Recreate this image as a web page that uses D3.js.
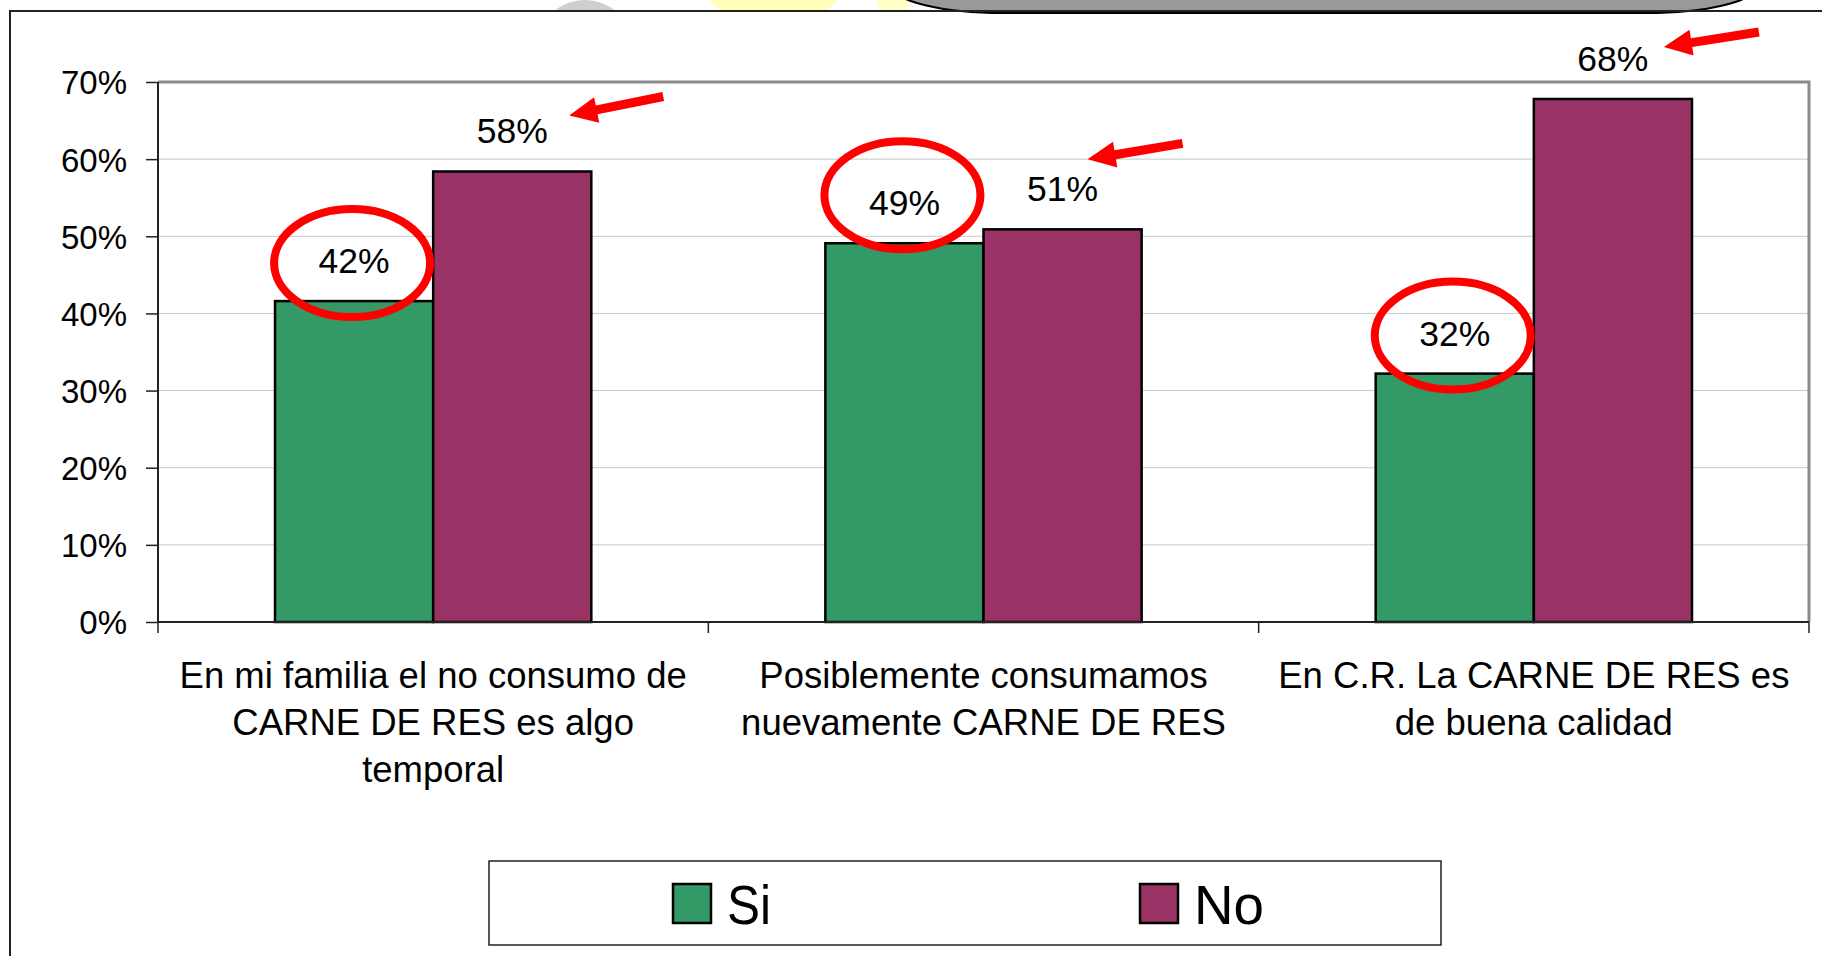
<!DOCTYPE html>
<html>
<head>
<meta charset="utf-8">
<script src="https://cdn.jsdelivr.net/npm/d3@7"></script>
<style>
  html, body { margin: 0; padding: 0; background: #fff; }
  svg { display: block; font-family: "Liberation Sans", Arial, Helvetica, sans-serif; }
</style>
</head>
<body>
<div id="chart"></div>
<script>
const categories = [
  ['En mi familia el no consumo de', 'CARNE DE RES es algo', 'temporal'],
  ['Posiblemente consumamos', 'nuevamente CARNE DE RES'],
  ['En C.R. La CARNE DE RES es', 'de buena calidad'],
];
const seriesNames = ['Si', 'No'];
const siValues = [0.416, 0.491, 0.322];
const noValues = [0.584, 0.509, 0.678];
const yTicks = [0, 0.1, 0.2, 0.3, 0.4, 0.5, 0.6, 0.7];
const colors = { Si: '#339966', No: '#993366' };

// hand-drawn annotations: circles round the Si labels, arrows pointing at the No labels
const circled = [{ cat: 0, dy: -10 }, { cat: 1, dy: -20 }, { cat: 2, dy: -10 }];
const arrows = [
  { cat: 0, tip: [57, -28], tail: [151, -47] },
  { cat: 1, tip: [25, -42], tail: [120, -58] },
  { cat: 2, tip: [51, -24], tail: [146, -39] },
];

const width = 1822, height = 956;
const margin = { top: 82, right: 13, bottom: 334, left: 158 };

const svg = d3.select('#chart').append('svg')
  .attr('width', width).attr('height', height);

// faint decorations peeking above the frame
svg.append('clipPath').attr('id', 'topclip')
  .append('rect').attr('x', 0).attr('y', 0).attr('width', width).attr('height', 11);
const deco = svg.append('g').attr('clip-path', 'url(#topclip)');
deco.append('path')
  .attr('d', d3.arc().innerRadius(34).outerRadius(48).startAngle(-Math.PI * 0.6).endAngle(Math.PI * 0.4)())
  .attr('transform', 'translate(585,48)')
  .attr('fill', '#cfcfcf');
deco.append('rect')
  .attr('x', 707).attr('y', -30).attr('width', 133).attr('height', 45)
  .attr('rx', 40).attr('fill', '#ffffb8');
deco.append('rect')
  .attr('x', 878).attr('y', -30).attr('width', 30).attr('height', 45)
  .attr('fill', '#ffffc8');
svg.append('rect')
  .attr('x', 893).attr('y', -40).attr('width', 863).attr('height', 53)
  .attr('rx', 110).attr('ry', 45)
  .attr('fill', '#999999').attr('stroke', '#000').attr('stroke-width', 2);

// outer frame
svg.append('rect')
  .attr('x', 10).attr('y', 11).attr('width', width).attr('height', height)
  .attr('fill', 'none').attr('stroke', '#222').attr('stroke-width', 2);

const x0 = d3.scaleBand()
  .domain(d3.range(categories.length))
  .range([margin.left, width - margin.right]);
const x1 = d3.scaleBand()
  .domain(seriesNames)
  .range([0, x0.bandwidth()])
  .paddingOuter(0.74);
const y = d3.scaleLinear()
  .domain([0, 0.7])
  .range([height - margin.bottom, margin.top]);

const plotR = width - margin.right;
const plotB = height - margin.bottom;

// gridlines
svg.append('g')
  .selectAll('line').data(yTicks.slice(1, -1)).join('line')
  .attr('x1', margin.left).attr('x2', plotR)
  .attr('y1', d => y(d)).attr('y2', d => y(d))
  .attr('stroke', '#c8c8c8').attr('stroke-width', 1);

// plot border top/right
svg.append('path')
  .attr('d', `M${margin.left},${y(0.7)}H${plotR}V${plotB}`)
  .attr('fill', 'none').attr('stroke', '#8a8a8a').attr('stroke-width', 3);

// bars
const rows = categories.map((c, i) => ({ i, Si: siValues[i], No: noValues[i] }));
const groups = svg.append('g').selectAll('g').data(rows).join('g')
  .attr('transform', d => `translate(${x0(d.i)},0)`);
groups.selectAll('rect')
  .data(d => seriesNames.map(k => ({ key: k, value: d[k] })))
  .join('rect')
  .attr('x', d => x1(d.key))
  .attr('y', d => y(d.value))
  .attr('width', x1.bandwidth())
  .attr('height', d => y(0) - y(d.value))
  .attr('fill', d => colors[d.key])
  .attr('stroke', '#000').attr('stroke-width', 2.5);

// y axis
const yAxis = svg.append('g')
  .attr('transform', `translate(${margin.left},0)`)
  .call(d3.axisLeft(y).tickValues(yTicks).tickFormat(d3.format('.0%')).tickSize(12).tickPadding(19));
yAxis.select('.domain').attr('stroke', '#222').attr('stroke-width', 2).attr('d', `M0,${y(0.7)}V${plotB}`);
yAxis.selectAll('.tick line').attr('stroke', '#222').attr('stroke-width', 1.5);
yAxis.selectAll('.tick text').attr('font-size', 33).attr('fill', '#000').attr('dy', '0.36em');

// x axis line + category ticks
const xAxis = svg.append('g');
xAxis.append('line')
  .attr('x1', margin.left).attr('x2', plotR)
  .attr('y1', plotB).attr('y2', plotB)
  .attr('stroke', '#222').attr('stroke-width', 2);
xAxis.selectAll('line.tk')
  .data(d3.range(categories.length + 1)).join('line')
  .attr('class', 'tk')
  .attr('x1', d => margin.left + d * x0.step()).attr('x2', d => margin.left + d * x0.step())
  .attr('y1', plotB).attr('y2', plotB + 11)
  .attr('stroke', '#222').attr('stroke-width', 1.5);

xAxis.selectAll('text.cat').data(categories).join('text')
  .attr('class', 'cat')
  .attr('x', (d, i) => x0(i) + x0.bandwidth() / 2)
  .attr('y', 688)
  .attr('text-anchor', 'middle').attr('font-size', 36.5).attr('fill', '#000')
  .selectAll('tspan').data(d => d).join('tspan')
  .attr('x', function() { return this.parentNode.getAttribute('x'); })
  .attr('dy', (d, i) => i === 0 ? 0 : 47)
  .text(d => d);

// data labels
const fmt = d3.format('.0%');
const labelPos = (i, key) => {
  const v = key === 'Si' ? siValues[i] : noValues[i];
  return [x0(i) + x1(key) + x1.bandwidth() / 2, y(v) - 28];
};
seriesNames.forEach(key => {
  svg.append('g').selectAll('text').data(d3.range(categories.length)).join('text')
    .attr('x', i => labelPos(i, key)[0])
    .attr('y', i => labelPos(i, key)[1])
    .attr('text-anchor', 'middle').attr('font-size', 35.5).attr('fill', '#000')
    .text(i => fmt(key === 'Si' ? siValues[i] : noValues[i]));
});

// red circles
svg.append('g').selectAll('ellipse').data(circled).join('ellipse')
  .attr('cx', d => labelPos(d.cat, 'Si')[0] - 2)
  .attr('cy', d => labelPos(d.cat, 'Si')[1] + d.dy)
  .attr('rx', 78).attr('ry', 54)
  .attr('fill', 'none').attr('stroke', '#ff0000').attr('stroke-width', 8);

// red arrows
function arrowPath(tip, tail) {
  const dx = tail[0] - tip[0], dy = tail[1] - tip[1];
  const len = Math.hypot(dx, dy);
  const ux = dx / len, uy = dy / len, px = -uy, py = ux;
  const hl = 28, hw = 13, sw = 4.5;
  const b = [tip[0] + ux * hl, tip[1] + uy * hl];
  const pts = [
    tip,
    [b[0] + px * hw, b[1] + py * hw],
    [b[0] + px * sw, b[1] + py * sw],
    [tail[0] + px * sw, tail[1] + py * sw],
    [tail[0] - px * sw, tail[1] - py * sw],
    [b[0] - px * sw, b[1] - py * sw],
    [b[0] - px * hw, b[1] - py * hw],
  ];
  return d3.line()(pts) + 'Z';
}
svg.append('g').selectAll('path').data(arrows).join('path')
  .attr('d', d => {
    const [lx, ly] = labelPos(d.cat, 'No');
    return arrowPath([lx + d.tip[0], ly + d.tip[1]], [lx + d.tail[0], ly + d.tail[1]]);
  })
  .attr('fill', '#ff0000');

// legend
const legend = svg.append('g');
legend.append('rect')
  .attr('x', 489).attr('y', 861).attr('width', 952).attr('height', 84)
  .attr('fill', '#fff').attr('stroke', '#222').attr('stroke-width', 1.5);
const legendX = d3.scalePoint().domain(seriesNames).range([673, 1140]);
const li = legend.selectAll('g').data(seriesNames).join('g')
  .attr('transform', d => `translate(${legendX(d)},884)`);
li.append('rect')
  .attr('width', 38).attr('height', 39)
  .attr('fill', d => colors[d]).attr('stroke', '#000').attr('stroke-width', 2.5);
li.append('text')
  .attr('x', 54).attr('y', 40)
  .attr('font-size', 56).attr('fill', '#000')
  .attr('textLength', d => d === 'Si' ? 44 : 70).attr('lengthAdjust', 'spacingAndGlyphs')
  .text(d => d);
</script>
</body>
</html>
